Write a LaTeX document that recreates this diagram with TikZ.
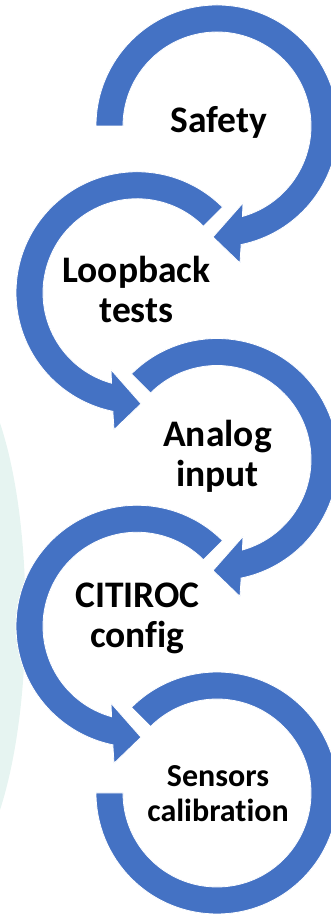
\documentclass[tikz,border=0pt]{standalone}
\usepackage{fontspec}
\setmainfont{Carlito}[Ligatures=NoCommon]
\definecolor{ringblue}{HTML}{4472C4}
\definecolor{bgteal}{HTML}{E6F4F1}
\begin{document}
\begin{tikzpicture}[x=1pt,y=1pt,
  ring/.style={fill=ringblue,draw=white,line width=0.8pt},
  bigtxt/.style={font=\bfseries\fontsize{37.5}{40}\selectfont,align=center,anchor=base,inner sep=0pt},
  smalltxt/.style={font=\bfseries\fontsize{32}{35}\selectfont,align=center,anchor=base,inner sep=0pt}]
\useasboundingbox (0,0) rectangle (331,915);
% faint background shape
\fill[bgteal] (0,492) .. controls (34,390) and (34,210) .. (0,105) -- cycle;
% circle centres
\coordinate (c1) at (217,789);
\coordinate (c2) at (137,622.25);
\coordinate (c3) at (217,455.5);
\coordinate (c4) at (137,288.75);
\coordinate (c5) at (217,122);
% circle 1: clockwise from 180 to bottom, arrow pointing left
\path[ring] ([shift={(180:121)}]c1) arc[start angle=180,end angle=-78.5,radius=121]
  -- ([shift={(23,-137)}]c1) -- ([shift={(-4,-111)}]c1) -- ([shift={(26,-77)}]c1)
  -- ([shift={(-74.3:94)}]c1) arc[start angle=-74.3,end angle=180,radius=94] -- cycle;
% circle 2: counter-clockwise from 45 to bottom, arrow pointing right
\path[ring] ([shift={(45:121)}]c2) arc[start angle=45,end angle=258.5,radius=121]
  -- ([shift={(-23,-137)}]c2) -- ([shift={(4,-111)}]c2) -- ([shift={(-26,-77)}]c2)
  -- ([shift={(254.3:94)}]c2) arc[start angle=254.3,end angle=45,radius=94] -- cycle;
% circle 3
\path[ring] ([shift={(135:121)}]c3) arc[start angle=135,end angle=-78.5,radius=121]
  -- ([shift={(23,-137)}]c3) -- ([shift={(-4,-111)}]c3) -- ([shift={(26,-77)}]c3)
  -- ([shift={(-74.3:94)}]c3) arc[start angle=-74.3,end angle=135,radius=94] -- cycle;
% circle 4
\path[ring] ([shift={(45:121)}]c4) arc[start angle=45,end angle=258.5,radius=121]
  -- ([shift={(-23,-137)}]c4) -- ([shift={(4,-111)}]c4) -- ([shift={(-26,-77)}]c4)
  -- ([shift={(254.3:94)}]c4) arc[start angle=254.3,end angle=45,radius=94] -- cycle;
% circle 5: open ring from 135 clockwise to 180
\path[ring] ([shift={(135:121)}]c5) arc[start angle=135,end angle=-180,radius=121]
  -- ([shift={(-180:94)}]c5) arc[start angle=-180,end angle=135,radius=94] -- cycle;
% labels (anchor = baseline of the last line)
\node[bigtxt] (t1) at (219,782) {Safety};
\node[bigtxt] (t2) at (136.5,592) {Loopback\\tests};
\node[bigtxt] (t3) at (217.5,428) {Analog\\input};
\node[bigtxt] (t4) at (137.5,267) {CITIROC\\config};
\node[smalltxt] (t5) at (218,93) {Sensors\\calibration};
\end{tikzpicture}
\end{document}
